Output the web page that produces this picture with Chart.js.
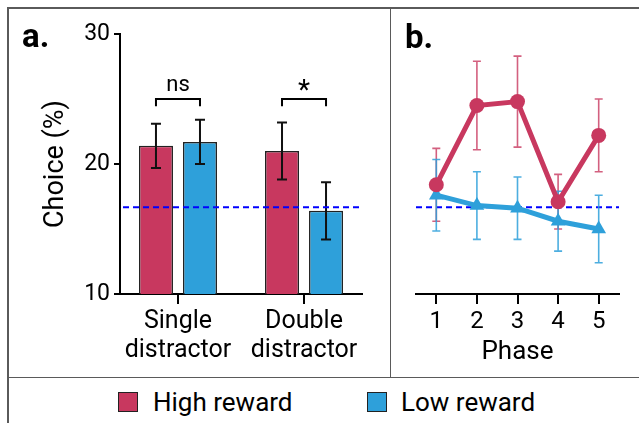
<!DOCTYPE html>
<html>
<head>
<meta charset="utf-8">
<script src="https://cdn.jsdelivr.net/npm/chart.js@4"></script>
<style>
  body { margin: 0; background: #fff; }
  #page { position: relative; width: 639px; height: 423px; overflow: hidden; font-family: Roboto, sans-serif; color: #000; }
  .rule { position: absolute; background: #5a5a5a; }
  .panel { position: absolute; top: 0; height: 377px; }
  .tag { position: absolute; font-weight: bold; font-size: 33px; line-height: 1; }
  .key { position: absolute; top: 392px; width: 18px; height: 18px; border: 1.5px solid #222; }
  .keytext { position: absolute; top: 389px; font-size: 26px; line-height: 1; white-space: nowrap; }
</style>
</head>
<body>
<div id="page">
  <div class="rule" style="left:7px;top:7px;width:632px;height:1.5px"></div>
  <div class="rule" style="left:7px;top:7px;width:1.5px;height:416px"></div>
  <div class="rule" style="left:389.5px;top:7px;width:1.5px;height:370px"></div>
  <div class="rule" style="left:7px;top:376.5px;width:632px;height:1.5px"></div>

  <div class="panel" style="left:0;width:390px"><canvas id="chartA"></canvas></div>
  <div class="panel" style="left:390px;width:249px"><canvas id="chartB"></canvas></div>

  <div class="tag" style="left:22px;top:19px">a.</div>
  <div class="tag" style="left:405px;top:20px">b.</div>

  <div class="key" style="left:118px;background:#C8385F"></div>
  <div class="keytext" style="left:153px">High reward</div>
  <div class="key" style="left:367px;background:#2EA0DA"></div>
  <div class="keytext" style="left:401px">Low reward</div>
</div>

<script>
// ---- data ----
const categories  = [["Single", "distractor"], ["Double", "distractor"]];
const categoryPos = [1, 2];
const highBar     = [21.4, 21.0];
const highBarErr  = [1.7, 2.2];
const lowBar      = [21.7, 16.4];
const lowBarErr   = [1.7, 2.2];
const sigLabels   = ["ns", "*"];

const phases       = [1, 2, 3, 4, 5];
const highPhase    = [18.4, 24.5, 24.8, 17.1, 22.2];
const highPhaseErr = [2.8, 3.4, 3.5, 2.1, 2.8];
const lowPhase     = [17.6, 16.8, 16.6, 15.6, 15.0];
const lowPhaseErr  = [2.75, 2.6, 2.4, 2.3, 2.6];

const chance = 100 / 6;

const RED  = "#C8385F";
const BLUE = "#2EA0DA";

Chart.defaults.font.family = "Roboto";
Chart.defaults.color = "#000";

const pts = (xs, ys) => xs.map((x, i) => ({ x, y: ys[i] }));

// error bars, drawn from dataset.errors through the y scale
function drawErrors(chart) {
  const { ctx, scales: { y } } = chart;
  chart.data.datasets.forEach((ds, i) => {
    if (!ds.errors) return;
    const meta = chart.getDatasetMeta(i);
    ctx.save();
    ctx.strokeStyle = ds.errorColor;
    ctx.lineWidth = ds.errorWidth;
    meta.data.forEach((el, j) => {
      const v = ds.data[j].y, e = ds.errors[j];
      const top = y.getPixelForValue(v + e), bot = y.getPixelForValue(v - e);
      const c = ds.capHalf;
      ctx.beginPath();
      ctx.moveTo(el.x, top); ctx.lineTo(el.x, bot);
      ctx.moveTo(el.x - c, top); ctx.lineTo(el.x + c, top);
      ctx.moveTo(el.x - c, bot); ctx.lineTo(el.x + c, bot);
      ctx.stroke();
    });
    ctx.restore();
  });
}

function drawChance(chart, startOffset) {
  const { ctx, chartArea: a, scales: { y } } = chart;
  const py = y.getPixelForValue(chance);
  ctx.save();
  ctx.strokeStyle = "#0000FF";
  ctx.lineWidth = 2;
  ctx.setLineDash([6, 4]);
  ctx.beginPath();
  ctx.moveTo(a.left + startOffset, py);
  ctx.lineTo(a.right, py);
  ctx.stroke();
  ctx.restore();
}

const barOverlay = {
  id: "barOverlay",
  afterDatasetsDraw(chart) {
    drawErrors(chart);
    drawChance(chart, 3);
    // significance brackets
    const { ctx, scales: { y } } = chart;
    const m0 = chart.getDatasetMeta(0), m1 = chart.getDatasetMeta(1);
    const by = y.getPixelForValue(25.0), legY = y.getPixelForValue(24.45);
    ctx.save();
    ctx.strokeStyle = "#000";
    ctx.lineWidth = 2;
    ctx.fillStyle = "#000";
    ctx.textAlign = "center";
    ctx.textBaseline = "alphabetic";
    sigLabels.forEach((txt, i) => {
      const x0 = m0.data[i].x, x1 = m1.data[i].x;
      ctx.beginPath();
      ctx.moveTo(x0, legY); ctx.lineTo(x0, by); ctx.lineTo(x1, by); ctx.lineTo(x1, legY);
      ctx.stroke();
      if (txt === "*") {
        ctx.font = "28px Roboto";
        ctx.fillText(txt, (x0 + x1) / 2, by);
      } else {
        ctx.font = "22px Roboto";
        ctx.fillText(txt, (x0 + x1) / 2, by - 8);
      }
    });
    ctx.restore();
  }
};

const lineUnderlay = {
  id: "lineUnderlay",
  beforeDatasetsDraw(chart) {
    drawChance(chart, 0);
    drawErrors(chart);
  }
};

new Chart(document.getElementById("chartA"), {
  type: "bar",
  data: {
    datasets: [
      { label: "High reward", data: pts(categoryPos, highBar), errors: highBarErr,
        backgroundColor: RED, borderColor: "#222", borderWidth: 1.5,
        errorColor: "#111", errorWidth: 2, capHalf: 5 },
      { label: "Low reward", data: pts(categoryPos, lowBar), errors: lowBarErr,
        backgroundColor: BLUE, borderColor: "#222", borderWidth: 1.5,
        errorColor: "#111", errorWidth: 2, capHalf: 5 }
    ]
  },
  options: {
    responsive: true,
    maintainAspectRatio: false,
    animation: false,
    categoryPercentage: 88 / 126,
    barPercentage: 34 / 44,
    layout: { padding: { left: 40, right: 28, top: 34, bottom: 9 } },
    plugins: { legend: { display: false }, tooltip: { enabled: false } },
    scales: {
      x: {
        type: "linear",
        min: 0.54, max: 2.46,
        offset: false,
        afterBuildTicks: s => { s.ticks = categoryPos.map(v => ({ value: v })); },
        afterFit: s => { s.height = 74; },
        grid: { offset: false, drawOnChartArea: false, tickLength: 10, lineWidth: 2, color: "#000" },
        border: { color: "#000", width: 2 },
        ticks: {
          font: { size: 25, lineHeight: 1.13 },
          padding: 4,
          maxRotation: 0,
          callback: v => categories[categoryPos.indexOf(v)]
        }
      },
      y: {
        min: 10, max: 30,
        afterFit: s => { s.width = 80; },
        grid: { drawOnChartArea: false, tickLength: 6, lineWidth: 2, color: "#000" },
        border: { color: "#000", width: 2 },
        ticks: { stepSize: 10, font: { size: 23 }, padding: 4 },
        title: { display: true, text: "Choice (%)", font: { size: 27 }, padding: 0 }
      }
    }
  },
  plugins: [barOverlay]
});

new Chart(document.getElementById("chartB"), {
  type: "line",
  data: {
    datasets: [
      { label: "High reward", data: pts(phases, highPhase), errors: highPhaseErr,
        borderColor: RED, backgroundColor: RED, borderWidth: 5,
        pointStyle: "circle", pointRadius: 7.5, pointBorderWidth: 0,
        errorColor: "rgba(200,56,95,0.8)", errorWidth: 1.6, capHalf: 4 },
      { label: "Low reward", data: pts(phases, lowPhase), errors: lowPhaseErr,
        borderColor: BLUE, backgroundColor: BLUE, borderWidth: 5,
        pointStyle: "triangle", pointRadius: 8.5, pointBorderWidth: 0,
        errorColor: "rgba(46,160,218,0.85)", errorWidth: 1.6, capHalf: 4 }
    ]
  },
  options: {
    responsive: true,
    maintainAspectRatio: false,
    animation: false,
    layout: { padding: { left: 26, right: 20, top: 34, bottom: 9 } },
    plugins: { legend: { display: false }, tooltip: { enabled: false } },
    scales: {
      x: {
        type: "linear",
        min: 0.5, max: 5.5,
        afterBuildTicks: s => { s.ticks = phases.map(v => ({ value: v })); },
        afterFit: s => { s.height = 74; },
        grid: { drawOnChartArea: false, tickLength: 10, lineWidth: 2, color: "#000" },
        border: { color: "#000", width: 2 },
        ticks: { font: { size: 24 }, padding: 4, maxRotation: 0 },
        title: { display: true, text: "Phase", font: { size: 26 }, padding: 0 }
      },
      y: { display: false, min: 10, max: 30 }
    }
  },
  plugins: [lineUnderlay]
});
</script>
</body>
</html>
